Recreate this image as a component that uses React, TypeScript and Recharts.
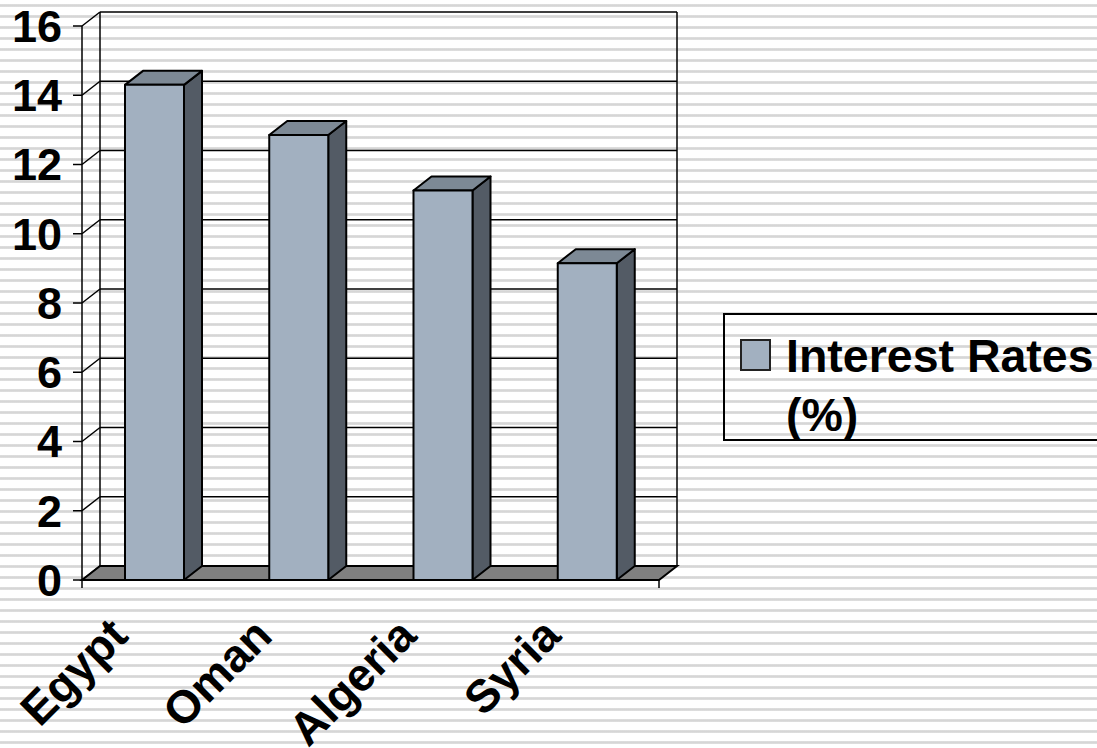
import React from "react";
import { BarChart, Bar, XAxis, YAxis, CartesianGrid, Legend } from "recharts";

const countries = ["Egypt", "Oman", "Algeria", "Syria"];
const interestRates = [14.3, 12.85, 11.25, 9.15];
const yTicks = [0, 2, 4, 6, 8, 10, 12, 14, 16];
const seriesName = "Interest Rates (%)";

const data = countries.map((name, i) => ({ name, rate: interestRates[i] }));

// depth of the fake 3d box
const DX = 18;
const DY = 14;
const FONT = '"Liberation Sans", Arial, Helvetica, sans-serif';
const FRONT = "#a2b0c0";
const TOP = "#7d8995";
const SIDE = "#535b65";
const FLOOR = "#808080";

const stripes =
  "repeating-linear-gradient(to bottom, #fff 0px, #fff 4px, #e3e3e3 4px, #d6d6d6 5px, #d6d6d6 6px, #e3e3e3 7px, #fff 7px, #fff 11px)";

// back wall gridlines + side wall diagonals, floor on the 0 line
const WallLine = (props: any) => {
  const { x1, x2, y1, y, height } = props;
  const top = typeof y === "number" ? y : 26;
  const bottom = top + (typeof height === "number" ? height : 554);
  const isFloor = Math.abs(y1 - bottom) < 0.5;
  return (
    <g>
      <line x1={x1} y1={y1} x2={x1 + DX} y2={y1 - DY} stroke="#000" strokeWidth={1.5} />
      <line x1={x1 + DX} y1={y1 - DY} x2={x2 + DX} y2={y1 - DY} stroke="#000" strokeWidth={1.5} />
      {isFloor && (
        <g>
          <line x1={x1 + DX} y1={top - DY} x2={x1 + DX} y2={bottom - DY} stroke="#000" strokeWidth={1.5} />
          <line x1={x2 + DX} y1={top - DY} x2={x2 + DX} y2={bottom - DY} stroke="#000" strokeWidth={1.5} />
          <polygon
            points={`${x1},${bottom} ${x1 + DX},${bottom - DY} ${x2 + DX},${bottom - DY} ${x2},${bottom}`}
            fill={FLOOR}
            stroke="#000"
            strokeWidth={2}
          />
          <line x1={x1} y1={bottom} x2={x1} y2={bottom + 8} stroke="#000" strokeWidth={1.5} />
          <line x1={x2} y1={bottom} x2={x2} y2={bottom + 8} stroke="#000" strokeWidth={1.5} />
        </g>
      )}
    </g>
  );
};

const Box3D = (props: any) => {
  const { x, y, width: w, height: h } = props;
  if (!h) return null;
  return (
    <g stroke="#000" strokeWidth={2} strokeLinejoin="round">
      <polygon
        points={`${x + w},${y} ${x + w + DX},${y - DY} ${x + w + DX},${y + h - DY} ${x + w},${y + h}`}
        fill={SIDE}
      />
      <polygon points={`${x},${y} ${x + DX},${y - DY} ${x + w + DX},${y - DY} ${x + w},${y}`} fill={TOP} />
      <rect x={x} y={y} width={w} height={h} fill={FRONT} />
    </g>
  );
};

const CountryTick = (props: any) => {
  const { x, y, payload } = props;
  const ax = x - 24;
  const ay = y + 58;
  return (
    <text
      x={ax}
      y={ay}
      transform={`rotate(-45 ${ax} ${ay})`}
      textAnchor="end"
      fontFamily={FONT}
      fontWeight={700}
      fontSize={46}
      fill="#000"
    >
      {payload.value}
    </text>
  );
};

const LegendBox = (props: any) => {
  const item = props.payload && props.payload[0];
  return (
    <div
      style={{
        position: "relative",
        width: 400,
        height: 128,
        boxSizing: "border-box",
        border: "2px solid #000",
        fontFamily: FONT,
      }}
    >
      <div
        style={{
          position: "absolute",
          left: 15,
          top: 24,
          width: 31,
          height: 32,
          boxSizing: "border-box",
          background: item ? item.color : FRONT,
          border: "2px solid #222",
        }}
      />
      <div
        style={{
          position: "absolute",
          left: 61,
          top: 12,
          width: 335,
          fontSize: 46.5,
          fontWeight: 700,
          lineHeight: "59px",
          color: "#000",
        }}
      >
        {item ? item.value : seriesName}
      </div>
    </div>
  );
};

export default function App() {
  return (
    <div
      style={{
        position: "absolute",
        left: 0,
        top: 0,
        width: 1097,
        height: 748,
        overflow: "hidden",
        background: stripes,
      }}
    >
      <BarChart width={1097} height={748} data={data} margin={{ top: 26, right: 438, bottom: 108, left: 0 }}>
        <CartesianGrid vertical={false} horizontal={WallLine} />
        <XAxis
          dataKey="name"
          axisLine={false}
          tickLine={false}
          tickSize={0}
          tickMargin={0}
          height={60}
          interval={0}
          tick={CountryTick}
        />
        <YAxis
          domain={[0, 16]}
          ticks={yTicks}
          interval={0}
          width={82}
          tickSize={9}
          tickMargin={11}
          axisLine={{ stroke: "#000", strokeWidth: 1.5 }}
          tickLine={{ stroke: "#000", strokeWidth: 1.5 }}
          tick={{ fill: "#000", fontSize: 45, fontWeight: 700, fontFamily: FONT }}
        />
        <Legend
          layout="vertical"
          align="center"
          verticalAlign="middle"
          wrapperStyle={{ left: 723, top: 313, width: 400, height: 128 }}
          content={LegendBox}
        />
        <Bar
          dataKey="rate"
          name={seriesName}
          fill={FRONT}
          barSize={59}
          isAnimationActive={false}
          shape={Box3D}
        />
      </BarChart>
    </div>
  );
}
